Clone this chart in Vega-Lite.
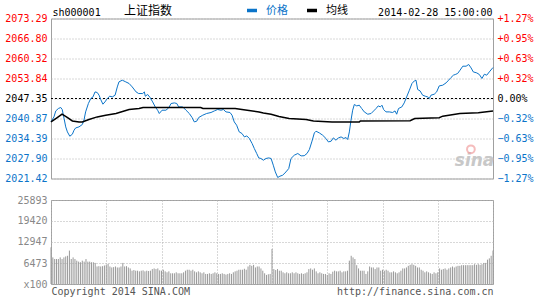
{
  "$schema": "https://vega.github.io/schema/vega-lite/v6.json",
  "background": "white",
  "padding": {"left": 4, "top": 2.5, "right": 0, "bottom": 0},
  "spacing": 9.5,
  "datasets": {
    "price": [
      {"m":0,"p":2039.77},{"m":1.6,"p":2041.39},{"m":2.6,"p":2043.33},{"m":4,"p":2044.11},{"m":5.3,"p":2044.44},{"m":6.1,"p":2043.79},{"m":7.1,"p":2040.87},{"m":8,"p":2038.15},{"m":8.9,"p":2036.53},{"m":10.2,"p":2035.13},{"m":11.6,"p":2035.78},{"m":12.5,"p":2037.08},{"m":13.4,"p":2037.82},{"m":15.2,"p":2038.15},{"m":17,"p":2038.92},{"m":17.9,"p":2040.32},{"m":18.8,"p":2043.01},{"m":20.3,"p":2045.73},{"m":21.6,"p":2047.35},{"m":22.8,"p":2047.87},{"m":23.9,"p":2049.49},{"m":25.1,"p":2049.30},{"m":26.1,"p":2048.42},{"m":27,"p":2047.03},{"m":28.2,"p":2045.51},{"m":29.3,"p":2046.25},{"m":30.6,"p":2047.35},{"m":31.9,"p":2048.10},{"m":33.3,"p":2047.87},{"m":34.8,"p":2048.42},{"m":36,"p":2051.11},{"m":36.9,"p":2052.74},{"m":38.7,"p":2053.29},{"m":40.6,"p":2052.74},{"m":42.4,"p":2052.22},{"m":44.1,"p":2051.11},{"m":46.2,"p":2049.49},{"m":47.6,"p":2048.97},{"m":49.8,"p":2048.97},{"m":50.7,"p":2049.49},{"m":51.2,"p":2048.10},{"m":52.5,"p":2048.65},{"m":53.8,"p":2047.68},{"m":55.2,"p":2046.25},{"m":56.6,"p":2044.63},{"m":57.9,"p":2043.56},{"m":58.8,"p":2042.49},{"m":60.3,"p":2043.56},{"m":62.4,"p":2043.56},{"m":63.9,"p":2044.31},{"m":65.2,"p":2045.73},{"m":67,"p":2045.93},{"m":68.3,"p":2045.73},{"m":69.3,"p":2044.63},{"m":71.5,"p":2044.63},{"m":73.3,"p":2043.56},{"m":75.1,"p":2042.49},{"m":76.6,"p":2041.19},{"m":77.8,"p":2039.77},{"m":79.1,"p":2039.99},{"m":80.2,"p":2041.19},{"m":82.4,"p":2041.94},{"m":84.5,"p":2042.49},{"m":86.9,"p":2042.82},{"m":88.7,"p":2043.33},{"m":90.5,"p":2043.79},{"m":92.3,"p":2043.56},{"m":93.6,"p":2043.79},{"m":95,"p":2043.01},{"m":97.2,"p":2042.82},{"m":98.3,"p":2041.94},{"m":99.5,"p":2039.77},{"m":100.8,"p":2038.70},{"m":102.2,"p":2036.53},{"m":103.7,"p":2036.01},{"m":105,"p":2034.90},{"m":106.3,"p":2035.23},{"m":107.7,"p":2034.39},{"m":109.2,"p":2032.76},{"m":110.4,"p":2031.14},{"m":111.7,"p":2029.52},{"m":112.8,"p":2028.10},{"m":114,"p":2027.90},{"m":115.3,"p":2027.35},{"m":116.7,"p":2027.90},{"m":118.2,"p":2028.10},{"m":119.5,"p":2027.90},{"m":120.7,"p":2025.73},{"m":121.8,"p":2023.56},{"m":123.1,"p":2021.74},{"m":124.3,"p":2022.16},{"m":125.8,"p":2022.49},{"m":127.6,"p":2023.56},{"m":129.1,"p":2024.66},{"m":130.3,"p":2027.90},{"m":132.1,"p":2028.97},{"m":134,"p":2029.52},{"m":135.8,"p":2028.75},{"m":137.5,"p":2028.81},{"m":139,"p":2029.52},{"m":140.3,"p":2030.82},{"m":141.6,"p":2033.28},{"m":143,"p":2036.20},{"m":143.9,"p":2036.75},{"m":145.7,"p":2036.20},{"m":147.5,"p":2035.46},{"m":149.3,"p":2034.39},{"m":150.6,"p":2033.28},{"m":152.1,"p":2033.51},{"m":153.3,"p":2034.58},{"m":154.8,"p":2033.83},{"m":156,"p":2034.58},{"m":157.5,"p":2034.90},{"m":159,"p":2034.39},{"m":160.2,"p":2034.71},{"m":161.1,"p":2034.06},{"m":162,"p":2036.53},{"m":162.9,"p":2040.32},{"m":163.8,"p":2043.56},{"m":164.7,"p":2045.41},{"m":166,"p":2044.96},{"m":167.4,"p":2045.18},{"m":168.7,"p":2044.11},{"m":170.1,"p":2043.01},{"m":172,"p":2042.26},{"m":173.8,"p":2042.49},{"m":175.2,"p":2043.33},{"m":176.5,"p":2044.11},{"m":177.7,"p":2044.96},{"m":178.8,"p":2044.63},{"m":179.7,"p":2045.18},{"m":180.6,"p":2043.79},{"m":181.9,"p":2043.01},{"m":183.7,"p":2043.01},{"m":185.5,"p":2042.82},{"m":186.8,"p":2043.33},{"m":187.7,"p":2042.26},{"m":188.7,"p":2044.11},{"m":190.5,"p":2044.63},{"m":191.8,"p":2045.93},{"m":193.1,"p":2047.87},{"m":194.6,"p":2050.04},{"m":196,"p":2052.22},{"m":197.3,"p":2053.06},{"m":198.2,"p":2053.29},{"m":199.1,"p":2050.27},{"m":200.4,"p":2049.82},{"m":201.8,"p":2048.42},{"m":203.2,"p":2048.10},{"m":204.5,"p":2047.87},{"m":205.4,"p":2047.35},{"m":206.3,"p":2048.42},{"m":208.1,"p":2048.75},{"m":209.4,"p":2049.49},{"m":210.8,"p":2051.44},{"m":212.7,"p":2051.67},{"m":214.5,"p":2052.41},{"m":215.9,"p":2053.29},{"m":217.2,"p":2054.16},{"m":218.5,"p":2054.91},{"m":219.5,"p":2055.13},{"m":220.8,"p":2055.46},{"m":222.1,"p":2056.53},{"m":223.6,"p":2057.83},{"m":225.4,"p":2057.83},{"m":226.8,"p":2058.38},{"m":228.1,"p":2057.27},{"m":229.3,"p":2055.98},{"m":231.2,"p":2055.65},{"m":232.6,"p":2055.13},{"m":234,"p":2053.84},{"m":235.3,"p":2055.23},{"m":236.6,"p":2054.91},{"m":238,"p":2055.98},{"m":240,"p":2057.40}
    ],
    "avg": [
      {"m":0,"a":2039.77},{"m":3,"a":2041.0},{"m":6,"a":2042.26},{"m":9,"a":2041.19},{"m":11.6,"a":2040.09},{"m":15.2,"a":2039.77},{"m":17,"a":2039.77},{"m":20.6,"a":2040.55},{"m":25.1,"a":2041.39},{"m":29.7,"a":2041.94},{"m":35.3,"a":2042.49},{"m":42.4,"a":2043.79},{"m":47.8,"a":2044.11},{"m":50,"a":2044.44},{"m":81.3,"a":2044.44},{"m":82.5,"a":2044.11},{"m":100,"a":2044.11},{"m":103.7,"a":2043.79},{"m":113,"a":2043.01},{"m":115.3,"a":2042.68},{"m":119.5,"a":2042.26},{"m":123.8,"a":2041.55},{"m":129.3,"a":2040.87},{"m":138.5,"a":2040.55},{"m":142.5,"a":2040.09},{"m":152.6,"a":2039.77},{"m":167.4,"a":2039.77},{"m":168,"a":2040.09},{"m":195,"a":2040.16},{"m":197.5,"a":2040.87},{"m":210.8,"a":2041.1},{"m":212.7,"a":2041.62},{"m":222,"a":2042.49},{"m":232,"a":2042.75},{"m":240,"a":2043.33}
    ],
    "vol": [
      {"m":0,"v":11300},{"m":1,"v":8200},{"m":2,"v":7700},{"m":3,"v":7700},{"m":4,"v":7700},{"m":5,"v":8200},{"m":6,"v":7700},{"m":7,"v":8200},{"m":8,"v":8500},{"m":9,"v":8700},{"m":10,"v":10300},{"m":11,"v":7700},{"m":12,"v":8200},{"m":13,"v":7700},{"m":14,"v":7200},{"m":15,"v":6900},{"m":16,"v":6700},{"m":17,"v":7200},{"m":18,"v":6900},{"m":19,"v":7700},{"m":20,"v":6900},{"m":21,"v":6900},{"m":22,"v":6700},{"m":23,"v":6700},{"m":24,"v":6500},{"m":25,"v":5400},{"m":26,"v":5500},{"m":27,"v":5400},{"m":28,"v":5500},{"m":29,"v":5700},{"m":30,"v":5900},{"m":31,"v":6200},{"m":32,"v":5400},{"m":33,"v":5100},{"m":34,"v":5200},{"m":35,"v":5400},{"m":36,"v":5100},{"m":37,"v":5100},{"m":38,"v":5400},{"m":39,"v":6500},{"m":40,"v":5400},{"m":41,"v":5500},{"m":42,"v":5100},{"m":43,"v":4800},{"m":44,"v":4100},{"m":45,"v":4300},{"m":46,"v":4100},{"m":47,"v":4100},{"m":48,"v":3900},{"m":49,"v":4100},{"m":50,"v":4200},{"m":51,"v":3900},{"m":52,"v":4100},{"m":53,"v":4000},{"m":54,"v":4100},{"m":55,"v":4600},{"m":56,"v":4800},{"m":57,"v":4600},{"m":58,"v":4800},{"m":59,"v":4200},{"m":60,"v":4100},{"m":61,"v":4400},{"m":62,"v":3900},{"m":63,"v":3600},{"m":64,"v":3900},{"m":65,"v":3300},{"m":66,"v":3300},{"m":67,"v":3300},{"m":68,"v":3600},{"m":69,"v":3300},{"m":70,"v":3300},{"m":71,"v":3300},{"m":72,"v":3600},{"m":73,"v":4100},{"m":74,"v":4400},{"m":75,"v":4400},{"m":76,"v":4100},{"m":77,"v":4400},{"m":78,"v":3900},{"m":79,"v":3600},{"m":80,"v":3900},{"m":81,"v":3600},{"m":82,"v":3300},{"m":83,"v":3600},{"m":84,"v":3100},{"m":85,"v":3100},{"m":86,"v":3300},{"m":87,"v":3100},{"m":88,"v":3300},{"m":89,"v":3600},{"m":90,"v":3300},{"m":91,"v":3100},{"m":92,"v":3100},{"m":93,"v":3300},{"m":94,"v":3100},{"m":95,"v":2900},{"m":96,"v":3100},{"m":97,"v":3300},{"m":98,"v":3100},{"m":99,"v":3600},{"m":100,"v":3900},{"m":101,"v":4100},{"m":102,"v":4400},{"m":103,"v":4400},{"m":104,"v":4400},{"m":105,"v":4700},{"m":106,"v":4400},{"m":107,"v":5400},{"m":108,"v":5900},{"m":109,"v":5600},{"m":110,"v":5900},{"m":111,"v":5100},{"m":112,"v":5400},{"m":113,"v":5400},{"m":114,"v":4800},{"m":115,"v":4100},{"m":116,"v":3300},{"m":117,"v":2800},{"m":118,"v":3000},{"m":119,"v":3100},{"m":120,"v":10800},{"m":121,"v":4600},{"m":122,"v":4300},{"m":123,"v":4600},{"m":124,"v":4100},{"m":125,"v":4100},{"m":126,"v":3600},{"m":127,"v":3300},{"m":128,"v":3600},{"m":129,"v":3300},{"m":130,"v":3300},{"m":131,"v":3600},{"m":132,"v":3300},{"m":133,"v":3600},{"m":134,"v":3300},{"m":135,"v":3100},{"m":136,"v":3300},{"m":137,"v":3100},{"m":138,"v":3300},{"m":139,"v":3600},{"m":140,"v":4600},{"m":141,"v":4800},{"m":142,"v":4400},{"m":143,"v":4800},{"m":144,"v":3900},{"m":145,"v":3300},{"m":146,"v":3600},{"m":147,"v":3300},{"m":148,"v":3100},{"m":149,"v":3100},{"m":150,"v":2800},{"m":151,"v":3300},{"m":152,"v":3100},{"m":153,"v":3800},{"m":154,"v":4100},{"m":155,"v":3900},{"m":156,"v":3900},{"m":157,"v":4100},{"m":158,"v":3600},{"m":159,"v":3900},{"m":160,"v":3900},{"m":161,"v":4100},{"m":162,"v":7200},{"m":163,"v":8700},{"m":164,"v":8200},{"m":165,"v":7700},{"m":166,"v":5800},{"m":167,"v":4800},{"m":168,"v":4100},{"m":169,"v":4100},{"m":170,"v":4100},{"m":171,"v":3100},{"m":172,"v":3900},{"m":173,"v":5400},{"m":174,"v":5100},{"m":175,"v":5100},{"m":176,"v":4600},{"m":177,"v":5100},{"m":178,"v":5100},{"m":179,"v":4100},{"m":180,"v":4400},{"m":181,"v":4100},{"m":182,"v":4400},{"m":183,"v":4100},{"m":184,"v":3600},{"m":185,"v":3600},{"m":186,"v":3900},{"m":187,"v":3600},{"m":188,"v":3300},{"m":189,"v":3600},{"m":190,"v":4100},{"m":191,"v":4800},{"m":192,"v":4800},{"m":193,"v":5100},{"m":194,"v":5600},{"m":195,"v":5900},{"m":196,"v":6100},{"m":197,"v":5900},{"m":198,"v":5600},{"m":199,"v":5100},{"m":200,"v":5100},{"m":201,"v":4400},{"m":202,"v":4100},{"m":203,"v":3600},{"m":204,"v":3900},{"m":205,"v":3600},{"m":206,"v":3300},{"m":207,"v":3100},{"m":208,"v":3600},{"m":209,"v":3300},{"m":210,"v":3600},{"m":211,"v":4800},{"m":212,"v":4400},{"m":213,"v":4600},{"m":214,"v":4800},{"m":215,"v":4400},{"m":216,"v":4800},{"m":217,"v":5100},{"m":218,"v":5400},{"m":219,"v":5100},{"m":220,"v":5400},{"m":221,"v":5600},{"m":222,"v":5600},{"m":223,"v":5800},{"m":224,"v":5800},{"m":225,"v":5800},{"m":226,"v":5800},{"m":227,"v":5800},{"m":228,"v":5800},{"m":229,"v":5800},{"m":230,"v":6100},{"m":231,"v":5900},{"m":232,"v":6100},{"m":233,"v":5900},{"m":234,"v":6100},{"m":235,"v":6500},{"m":236,"v":6500},{"m":237,"v":7500},{"m":238,"v":7900},{"m":239,"v":8700},{"m":240,"v":10300}
    ]
  },
  "vconcat": [
    {
      "width": 442,
      "height": 160,
      "layer": [
        {
          "data": {"values": [{}]},
          "mark": {"type": "rule", "color": "#000000", "strokeDash": [2, 2], "strokeWidth": 1},
          "encoding": {
            "y": {"datum": 2047.35, "type": "quantitative", "scale": {"domain": [2021.42, 2073.29], "nice": false, "zero": false}, "axis": null}
          }
        },
        {
          "data": {"values": [{}]},
          "mark": {"type": "text", "font": "DejaVu Sans", "fontSize": 17, "fontWeight": "bold", "fontStyle": "italic", "color": "#c8c8c8", "align": "center", "baseline": "middle"},
          "encoding": {
            "x": {"datum": 230, "type": "quantitative", "scale": {"domain": [0, 240], "nice": false, "zero": false}, "axis": null},
            "y": {"datum": 2027.0, "type": "quantitative", "scale": {"domain": [2021.42, 2073.29], "nice": false, "zero": false}, "axis": null},
            "text": {"value": "sina"}
          }
        },
        {
          "data": {"values": [{}]},
          "mark": {"type": "point", "shape": "circle", "filled": false, "color": "#f2a0a0", "strokeWidth": 2, "size": 60},
          "encoding": {
            "x": {"datum": 228, "type": "quantitative", "scale": {"domain": [0, 240], "nice": false, "zero": false}, "axis": null},
            "y": {"datum": 2030.9, "type": "quantitative", "scale": {"domain": [2021.42, 2073.29], "nice": false, "zero": false}, "axis": null}
          }
        },
        {
          "data": {"name": "price"},
          "mark": {"type": "line", "strokeWidth": 1},
          "encoding": {
            "x": {
              "field": "m", "type": "quantitative",
              "scale": {"domain": [0, 240], "nice": false, "zero": false},
              "axis": {
                "values": [0, 30, 60, 90, 120, 150, 180, 210, 240],
                "labelExpr": "['09:30','10:00','10:30','11:00','11:30','13:30','14:00','14:30','15:00'][round(datum.value/30)]",
                "labelColor": "#0b74c9", "labelPadding": 5, "grid": true, "title": null
              }
            },
            "y": {
              "field": "p", "type": "quantitative",
              "scale": {"domain": [2021.42, 2073.29], "nice": false, "zero": false},
              "axis": {
                "orient": "left",
                "values": [2021.42, 2027.90, 2034.39, 2040.87, 2047.35, 2053.84, 2060.32, 2066.80, 2073.29],
                "format": ".2f", "grid": true, "labelPadding": 4,
                "title": "sh000001", "titleAngle": 0, "titleX": 1, "titleY": -3.5, "titleAlign": "left", "titleBaseline": "alphabetic", "titleColor": "#000000",
                "labelColor": {"condition": [{"test": "datum.value > 2047.36", "value": "#ff0000"}, {"test": "datum.value > 2047.34", "value": "#000000"}], "value": "#0b74c9"}
              }
            },
            "color": {
              "datum": "价格",
              "scale": {"domain": ["价格", "均线"], "range": ["#0b74c9", "#000000"]},
              "legend": {
                "orient": "none", "legendX": 73, "legendY": -15, "direction": "horizontal",
                "title": "上证指数", "titleOrient": "left", "titleFont": "Noto Sans CJK SC", "titleFontSize": 12, "titleFontWeight": "normal", "titleColor": "#000000", "titlePadding": 72,
                "symbolType": "stroke", "symbolSize": 100, "symbolStrokeWidth": 3.5,
                "labelFont": "Noto Sans CJK SC", "labelFontSize": 11, "labelOffset": 7, "columnPadding": 12,
                "labelColor": {"expr": "datum.label === '价格' ? '#0b74c9' : '#000000'"}
              }
            }
          }
        },
        {
          "data": {"name": "avg"},
          "mark": {"type": "line", "strokeWidth": 1.5},
          "encoding": {
            "x": {"field": "m", "type": "quantitative", "scale": {"domain": [0, 240], "nice": false, "zero": false}, "axis": null},
            "y": {
              "field": "a", "type": "quantitative",
              "scale": {"domain": [2021.42, 2073.29], "nice": false, "zero": false},
              "axis": {
                "orient": "right",
                "values": [2021.42, 2027.90, 2034.39, 2040.87, 2047.35, 2053.84, 2060.32, 2066.80, 2073.29],
                "grid": false, "labelPadding": 4,
                "labelExpr": "(datum.value > 2047.36 ? '+' : '') + format((datum.value - 2047.35) / 2047.35 * 100, '.2f') + '%'",
                "title": "2014-02-28 15:00:00", "titleAngle": 0, "titleX": -1, "titleY": -3.5, "titleAlign": "right", "titleBaseline": "alphabetic", "titleColor": "#000000",
                "labelColor": {"condition": [{"test": "datum.value > 2047.36", "value": "#ff0000"}, {"test": "datum.value > 2047.34", "value": "#000000"}], "value": "#0b74c9"}
              }
            },
            "color": {"datum": "均线"}
          }
        }
      ],
      "resolve": {"scale": {"y": "independent"}}
    },
    {
      "width": 442,
      "height": 84,
      "data": {"name": "vol"},
      "mark": {"type": "rule", "color": "#999999", "strokeWidth": 1},
      "encoding": {
        "x": {
          "field": "m", "type": "quantitative",
          "scale": {"domain": [0, 240], "nice": false, "zero": false},
          "axis": {
            "values": [0, 30, 60, 90, 120, 150, 180, 210, 240],
            "labels": false, "grid": true,
            "title": "http://finance.sina.com.cn", "titleAnchor": "end", "titleColor": "#555555", "titlePadding": 2
          }
        },
        "y": {
          "field": "v", "type": "quantitative",
          "scale": {"domain": [0, 25893], "nice": false, "zero": true},
          "axis": {
            "values": [0, 6473, 12947, 19420, 25893], "format": "d",
            "labelExpr": "datum.value === 0 ? 'x100' : datum.label",
            "labelColor": "#888888", "grid": true, "labelPadding": 4,
            "title": "Copyright 2014 SINA.COM", "titleAngle": 0, "titleX": 0, "titleY": 94.5, "titleAlign": "left", "titleBaseline": "alphabetic", "titleColor": "#555555"
          }
        },
        "y2": {"datum": 0}
      }
    }
  ],
  "resolve": {"scale": {"color": "independent"}, "legend": {"color": "independent"}},
  "config": {
    "view": {"stroke": "#a0a0a0", "strokeWidth": 1},
    "axis": {
      "labelFont": "DejaVu Sans Mono", "labelFontSize": 10,
      "titleFont": "DejaVu Sans Mono", "titleFontSize": 10, "titleFontWeight": "normal",
      "ticks": false, "domain": false,
      "gridColor": "#b0b0b0", "gridDash": [1, 2], "gridOpacity": 1, "gridWidth": 1,
      "labelOverlap": false, "labelBound": false, "labelFlush": false
    }
  }
}
